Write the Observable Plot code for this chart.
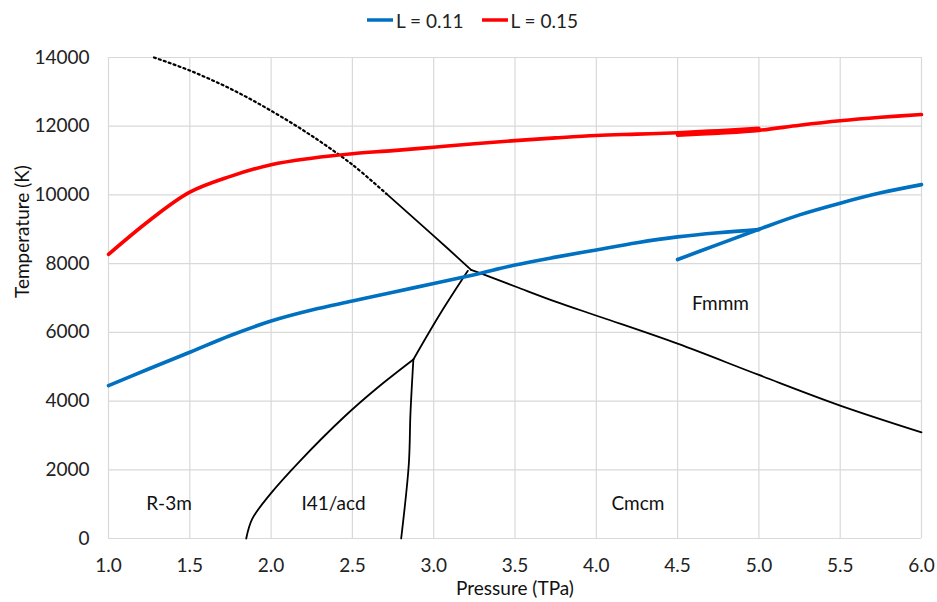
<!DOCTYPE html>
<html>
<head>
<meta charset="utf-8">
<script src="https://cdn.jsdelivr.net/npm/d3@7"></script>
<script src="https://cdn.jsdelivr.net/npm/@observablehq/plot@0.6"></script>
<style>
  html, body { margin: 0; padding: 0; background: #fff; }
  body { width: 937px; height: 602px; overflow: hidden; font-family: Lato, "Open Sans", sans-serif; }
  #legend { height: 40px; display: flex; justify-content: center; align-items: center; gap: 18px; font-size: 19px; color: #222; padding-left: 8px; box-sizing: border-box; }
  #legend .item { display: flex; align-items: center; gap: 3px; }
  #legend svg { display: block; }
</style>
</head>
<body>
<div id="legend"></div>
<div id="chart"></div>
<script>
// ---- data ----
const seriesNames = ["L = 0.11", "L = 0.15"];
const seriesColors = ["#0070C0", "#FF0000"];

// L = 0.11, main branch
const blueA_x = [1.0, 1.25, 1.5, 1.75, 2.0, 2.25, 2.5, 2.75, 3.0, 3.25, 3.5, 3.75, 4.0, 4.25, 4.5, 4.75, 5.0];
const blueA_y = [4450, 4940, 5420, 5910, 6330, 6650, 6910, 7170, 7420, 7680, 7960, 8190, 8400, 8610, 8780, 8900, 8990];
// L = 0.11, high-pressure branch
const blueB_x = [4.5, 4.75, 5.0, 5.25, 5.5, 5.75, 6.0];
const blueB_y = [8120, 8560, 9000, 9420, 9760, 10060, 10300];
// L = 0.15, main branch
const redA_x = [1.0, 1.25, 1.5, 1.75, 2.0, 2.25, 2.5, 2.75, 3.0, 3.25, 3.5, 3.75, 4.0, 4.25, 4.5, 4.75, 5.0];
const redA_y = [8270, 9250, 10080, 10540, 10880, 11070, 11200, 11290, 11390, 11490, 11580, 11660, 11730, 11770, 11810, 11870, 11940];
// L = 0.15, high-pressure branch
const redB_x = [4.5, 4.75, 5.0, 5.25, 5.5, 5.75, 6.0];
const redB_y = [11740, 11800, 11880, 12030, 12160, 12260, 12340];

// phase boundaries
const meltDotted_x = [1.28, 1.5, 1.75, 2.0, 2.25, 2.5, 2.71];
const meltDotted_y = [14000, 13620, 13090, 12450, 11720, 10880, 10030];
const boundaryTop_x = [2.71, 3.0, 3.23];
const boundaryTop_y = [10030, 8810, 7820];
const boundaryRight_x = [3.23, 3.31, 3.51, 3.74, 4.03, 4.5, 5.0, 5.5, 6.0];
const boundaryRight_y = [7820, 7680, 7320, 6910, 6440, 5670, 4760, 3870, 3090];
const boundaryMid_x = [2.875, 3.04, 3.21];
const boundaryMid_y = [5210, 6540, 7790];
const boundaryLeft_x = [1.847, 1.884, 1.996, 2.18, 2.447, 2.652, 2.875];
const boundaryLeft_y = [0, 570, 1300, 2270, 3530, 4380, 5210];
const boundaryVert_x = [2.875, 2.857, 2.847, 2.80];
const boundaryVert_y = [5210, 3630, 2170, 0];

const phaseNames = ["R-3m", "I41/acd", "Cmcm", "Fmmm"];
const phaseX = [1.372, 2.384, 4.256, 4.764];
const phaseY = [1010, 1010, 1010, 6830];

const xTicks = [1.0, 1.5, 2.0, 2.5, 3.0, 3.5, 4.0, 4.5, 5.0, 5.5, 6.0];
const yTicks = [0, 2000, 4000, 6000, 8000, 10000, 12000, 14000];
const xLabel = "Pressure (TPa)";
const yLabel = "Temperature (K)";

// ---- build tables ----
const zip = (xs, ys, extra) => xs.map((x, i) => ({x, y: ys[i], ...extra}));
const curves = [
  ...zip(blueA_x, blueA_y, {s: "blueA"}),
  ...zip(blueB_x, blueB_y, {s: "blueB"}),
  ...zip(redA_x, redA_y, {s: "redA"}),
  ...zip(redB_x, redB_y, {s: "redB"})
];
const solidBoundaries = [
  ...zip(boundaryTop_x, boundaryTop_y, {s: "top"}),
  ...zip(boundaryRight_x, boundaryRight_y, {s: "right"}),
  ...zip(boundaryMid_x, boundaryMid_y, {s: "mid"}),
  ...zip(boundaryLeft_x, boundaryLeft_y, {s: "left"}),
  ...zip(boundaryVert_x, boundaryVert_y, {s: "vert"})
];
const dotted = zip(meltDotted_x, meltDotted_y, {});
const labels = phaseNames.map((t, i) => ({t, x: phaseX[i], y: phaseY[i]}));
const colorOf = s => s.startsWith("blue") ? seriesColors[0] : seriesColors[1];

// ---- legend ----
const legend = document.getElementById("legend");
seriesNames.forEach((n, i) => {
  const item = document.createElement("div");
  item.className = "item";
  item.innerHTML = `<svg width="26" height="10"><line x1="0" y1="5" x2="26" y2="5" stroke="${seriesColors[i]}" stroke-width="3.5"/></svg><span>${n}</span>`;
  legend.appendChild(item);
});

// ---- chart ----
const chart = Plot.plot({
  width: 937,
  height: 562,
  marginTop: 17,
  marginBottom: 64,
  marginLeft: 108,
  marginRight: 16,
  style: {fontFamily: "Lato, 'Open Sans', sans-serif", fontSize: "19px", color: "#222", background: "#fff"},
  x: {domain: [1, 6]},
  y: {domain: [0, 14000]},
  marks: [
    Plot.gridX(xTicks, {stroke: "#d9d9d9", strokeOpacity: 1, strokeWidth: 1.2}),
    Plot.gridY(yTicks, {stroke: "#d9d9d9", strokeOpacity: 1, strokeWidth: 1.2}),
    Plot.axisX({ticks: xTicks, tickFormat: d => d.toFixed(1), tickSize: 0, tickPadding: 20, label: null, fontSize: 19}),
    Plot.axisY({ticks: yTicks, tickFormat: d => String(d), tickSize: 0, tickPadding: 19, label: null, fontSize: 19}),
    Plot.line(dotted, {x: "x", y: "y", stroke: "#000", strokeWidth: 2.2, strokeDasharray: "2,3.2", curve: "catmull-rom"}),
    Plot.line(solidBoundaries, {x: "x", y: "y", z: "s", stroke: "#000", strokeWidth: 1.8, curve: "catmull-rom"}),
    Plot.line(curves, {x: "x", y: "y", z: "s", stroke: d => colorOf(d.s), strokeWidth: 3.6, curve: "catmull-rom"}),
    Plot.text(labels, {x: "x", y: "y", text: "t", fill: "#111", fontSize: 19}),
    Plot.text([xLabel], {frameAnchor: "bottom", dy: 56, fill: "#111", fontSize: 19}),
    Plot.text([yLabel], {frameAnchor: "left", dx: -86, rotate: -90, fill: "#111", fontSize: 19})
  ]
});
document.getElementById("chart").appendChild(chart);
</script>
</body>
</html>
